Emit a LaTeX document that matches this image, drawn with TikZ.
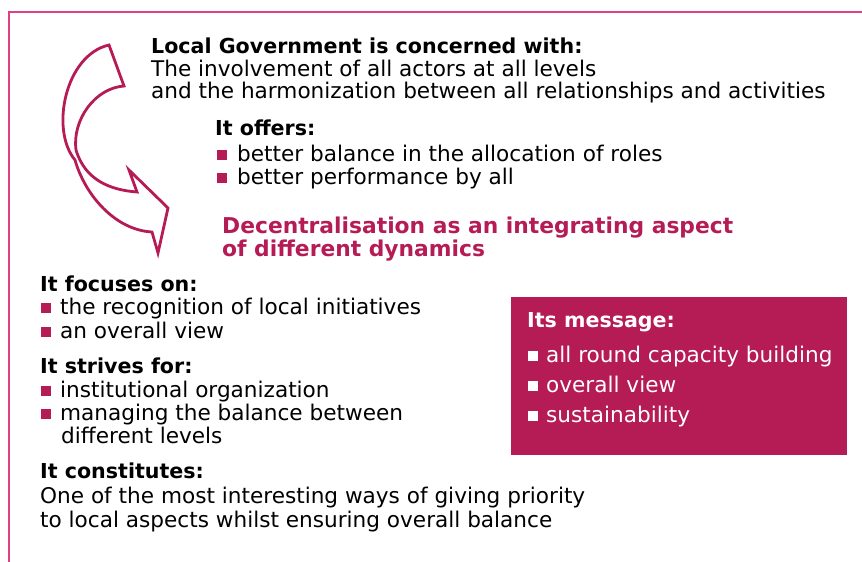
\documentclass[tikz,border=0pt]{standalone}
\usepackage{fontspec}
\setmainfont{DejaVu Sans}
\usetikzlibrary{positioning}
\definecolor{crimson}{RGB}{181, 27, 84}
\definecolor{framepink}{RGB}{221, 64, 137}
\tikzset{
  txt/.style={inner sep=0pt, anchor=base west, font=\fontsize{21.6}{23}\selectfont},
  head/.style={txt, font=\fontsize{20.6}{23}\selectfont\bfseries},
  keyline/.style={inner sep=0pt, anchor=base west, text=crimson, font=\fontsize{21.8}{25}\selectfont\bfseries},
  msg/.style={txt, text=white},
  msghead/.style={head, text=white}
}
\newcommand{\bulsq}[3]{\fill[#1] (#2, #3 - 1) rectangle ++(10, -10);}
\begin{document}
\begin{tikzpicture}[x=1pt, y=-1pt]
  \useasboundingbox (0, 0) rectangle (862, 562);
  % Frame
  \draw[framepink, line width=1.2pt] (9, 562) -- (9, 12) -- (862, 12);
  % Curved arrow
  \draw[crimson, line width=2.8pt]
       (109, 45) .. controls (65, 55) and (50, 130) .. (75, 160)
                 .. controls (85, 195) and (115, 230) .. (152, 232)
       -- (158, 253) -- (168, 208) -- (129, 170) -- (137, 192)
                 .. controls (110, 190) and (85, 180) .. (76, 150)
                 .. controls (72, 120) and (95, 88) .. (124, 86)
       -- cycle;
  % Local government
  \node[head] (lg)   at (151,  53) {Local Government is concerned with:};
  \node[txt]  (lg1)  at (151,  76) {The involvement of all actors at all levels};
  \node[txt]  (lg2)  at (151,  98) {and the harmonization between all relationships and activities};
  % It offers
  \node[head] (off)  at (215, 135) {It offers:};
  \bulsq{crimson}{217}{161}
  \node[txt]  (off1) at (237, 161) {better balance in the allocation of roles};
  \bulsq{crimson}{217}{184}
  \node[txt]  (off2) at (237, 184) {better performance by all};
  % Key statement
  \node[keyline] (key1) at (222, 233) {Decentralisation as an integrating aspect};
  \node[keyline] (key2) at (222, 256) {of different dynamics};
  % It focuses on
  \node[head] (foc)  at (40, 291) {It focuses on:};
  \bulsq{crimson}{41}{314}
  \node[txt]  (foc1) at (60, 314) {the recognition of local initiatives};
  \bulsq{crimson}{41}{338}
  \node[txt]  (foc2) at (60, 338) {an overall view};
  % It strives for
  \node[head] (str)  at (40, 373) {It strives for:};
  \bulsq{crimson}{41}{397}
  \node[txt]  (str1) at (60, 397) {institutional organization};
  \bulsq{crimson}{41}{420}
  \node[txt]  (str2) at (60, 420) {managing the balance between};
  \node[txt]  (str3) at (61, 443) {different levels};
  % It constitutes
  \node[head] (con)  at (40, 478) {It constitutes:};
  \node[txt]  (con1) at (40, 503) {One of the most interesting ways of giving priority};
  \node[txt]  (con2) at (40, 527) {to local aspects whilst ensuring overall balance};
  % Message box
  \fill[crimson] (511, 297) rectangle (847, 455);
  \node[msghead] (msg)  at (527, 327) {Its message:};
  \bulsq{white}{528}{362}
  \node[msg]     (msg1) at (546, 362) {all round capacity building};
  \bulsq{white}{528}{392}
  \node[msg]     (msg2) at (546, 392) {overall view};
  \bulsq{white}{528}{422}
  \node[msg]     (msg3) at (546, 422) {sustainability};
\end{tikzpicture}
\end{document}
